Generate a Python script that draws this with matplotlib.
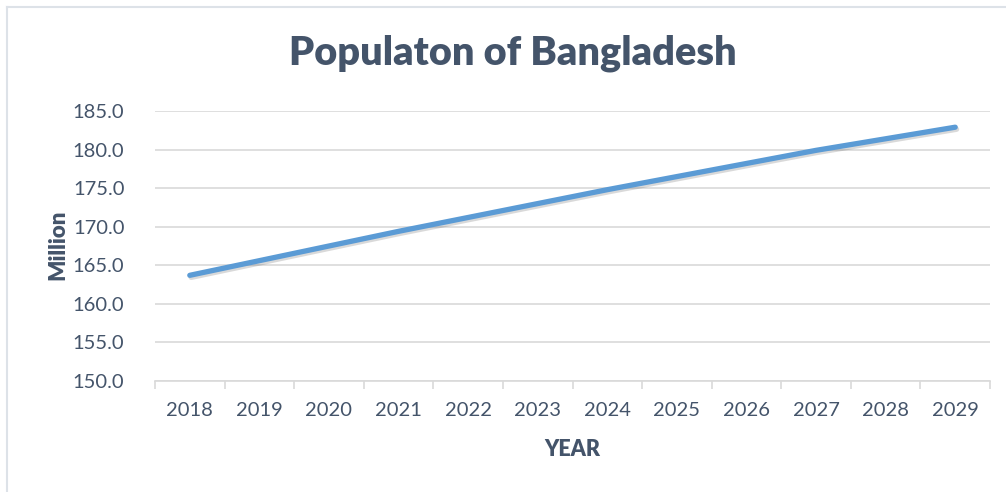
import matplotlib.pyplot as plt
import matplotlib.patheffects as pe
from matplotlib.lines import Line2D

years = ["2018", "2019", "2020", "2021", "2022", "2023",
         "2024", "2025", "2026", "2027", "2028", "2029"]
population = [163.7, 165.6, 167.5, 169.4, 171.2, 173.0,
              174.8, 176.5, 178.2, 179.9, 181.4, 182.9]
y_ticks = [150, 155, 160, 165, 170, 175, 180, 185]

TEXT = "#44546A"
GRID = "#D9D9D9"
LINE = "#5B9BD5"


def main():
    plt.rcParams["font.family"] = ["Lato", "DejaVu Sans"]
    W, H = 1006, 492
    fig = plt.figure(figsize=(W / 100, H / 100), dpi=100)

    # chart area border (top and left visible)
    fig.add_artist(Line2D([6.5 / W, 6.5 / W], [0, 1 - 6.5 / H],
                          transform=fig.transFigure, color="#DDE2E8", lw=1.5))
    fig.add_artist(Line2D([6.5 / W, 1005 / W], [1 - 6.5 / H, 1 - 6.5 / H],
                          transform=fig.transFigure, color="#DDE2E8", lw=1.5))

    left, right, top, bottom = 155, 990, 111, 381
    ax = fig.add_axes([left / W, 1 - bottom / H,
                       (right - left) / W, (bottom - top) / H])

    x = range(len(years))
    ax.plot(x, population, color=LINE, lw=3.8, solid_capstyle="round",
            zorder=3,
            path_effects=[pe.SimpleLineShadow(offset=(1, -1.5), alpha=0.2,
                                              shadow_color="#444444"),
                          pe.Normal()])

    ax.set_xlim(-0.5, len(years) - 0.5)
    ax.set_ylim(150, 185)
    ax.set_yticks(y_ticks)
    ax.set_yticklabels([f"{v:.1f}" for v in y_ticks])
    ax.set_xticks(list(x))
    ax.set_xticklabels(years)
    ax.set_xticks([i - 0.5 for i in range(len(years) + 1)], minor=True)

    ax.grid(axis="y", color=GRID, lw=1.2, zorder=0)
    ax.set_axisbelow(True)
    for key in ax.spines:
        ax.spines[key].set_visible(False)
    ax.spines["bottom"].set_visible(True)
    ax.spines["bottom"].set_color(GRID)
    ax.spines["bottom"].set_linewidth(1.2)

    ax.tick_params(axis="y", length=0, pad=22, labelsize=14.5,
                   labelcolor=TEXT)
    ax.tick_params(axis="x", which="major", length=0, pad=15,
                   labelsize=14.5, labelcolor=TEXT)
    ax.tick_params(axis="x", which="minor", length=6, width=1.2,
                   color=GRID)

    fig.text(0.5 * (293 + 733) / W, 1 - 53 / H, "Populaton of Bangladesh",
             ha="center", va="center", fontsize=28.5, fontweight="heavy",
             color=TEXT)
    fig.text(58 / W, 1 - 245 / H, "Million", rotation=90, ha="center",
             va="center", fontsize=16, fontweight="heavy", color=TEXT)
    fig.text(572 / W, 1 - 449 / H, "YEAR", ha="center", va="center",
             fontsize=15.5, fontweight="heavy", color=TEXT)

    fig.savefig("out.png", dpi=100)


main()
